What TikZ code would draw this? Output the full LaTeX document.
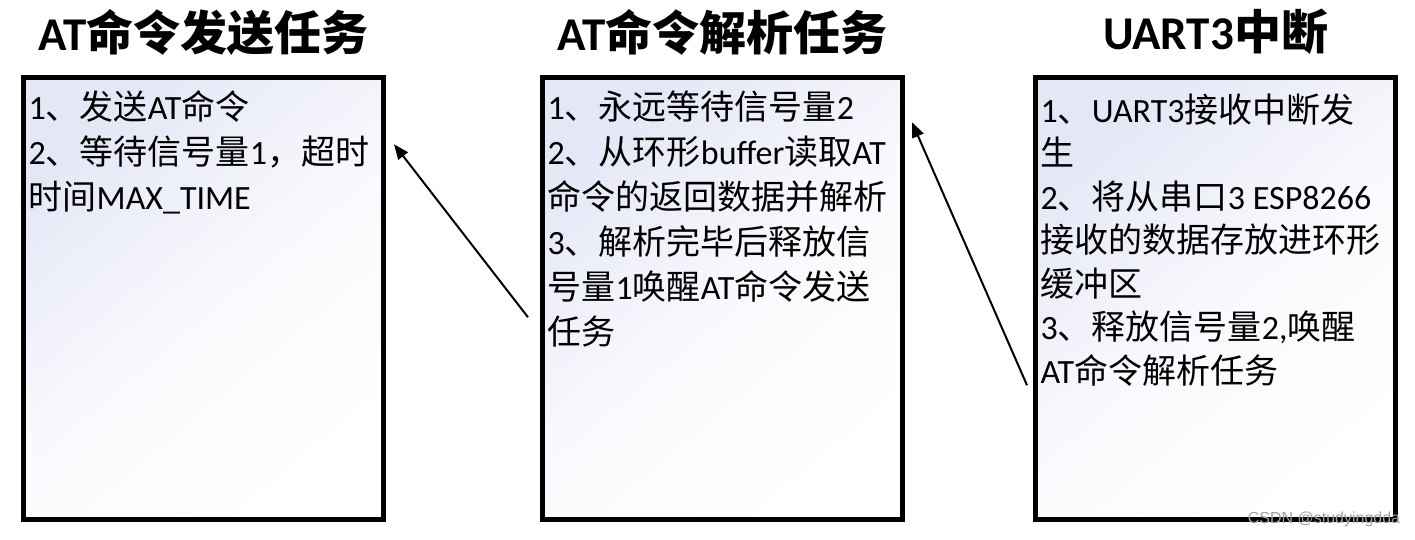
\documentclass[tikz,border=0pt]{standalone}
\usepackage{fontspec}
\setmainfont{Carlito}
\newfontfamily\latinfont{Carlito}
\newfontfamily\cjkfont{Noto Sans CJK SC}
\newfontfamily\wmfont{Liberation Sans}
\usetikzlibrary{positioning,arrows.meta}

% switch to the CJK font for Chinese characters
\newXeTeXintercharclass\cjkclass
\XeTeXinterchartokenstate=1
\newcount\cjkcode
\cjkcode="4E00
\loop
  \XeTeXcharclass\cjkcode=\cjkclass
  \ifnum\cjkcode<"9FFF \advance\cjkcode by 1 \repeat
\XeTeXcharclass"3001=\cjkclass
\XeTeXcharclass"FF0C=\cjkclass
\XeTeXinterchartoks 0 \cjkclass = {\cjkfont}
\XeTeXinterchartoks 4095 \cjkclass = {\cjkfont}
\XeTeXinterchartoks \cjkclass 0 = {\latinfont}
\XeTeXinterchartoks \cjkclass 4095 = {\latinfont}

\definecolor{boxtint}{RGB}{228,231,246}
\newcommand{\firstline}{\rule{0pt}{32pt}}

\begin{document}
\begin{tikzpicture}[x=1pt,y=-1pt,
  taskbox/.style={draw,line width=5pt,minimum width=360pt,minimum height=441.5pt,
    inner sep=0pt,outer sep=0pt,top color=boxtint,bottom color=white,
    middle color=boxtint!25!white,shading angle=40},
  tasktitle/.style={inner sep=0pt,font=\bfseries\fontsize{47}{56}\selectfont},
  tasknote/.style={anchor=north west,inner sep=0pt,align=left,
    font=\fontsize{34}{45}\selectfont},
  link/.style={line width=2pt,-{Triangle[length=15pt,width=12pt]}},
  watermark/.style={inner sep=0pt,text=gray!75,font=\wmfont\fontsize{16}{18}\selectfont}]
\useasboundingbox (0,0) rectangle (1415,539);

% Task boxes
\node[taskbox] (send) at (203.5,298.25) {};
\node[taskbox,right=159pt of send] (parse) {};
\node[taskbox,right=133pt of parse] (uart) {};

% Titles
\node[tasktitle] (sendtitle) at ([yshift=45.5pt]send.north) {AT命令发送任务};
\node[tasktitle] (parsetitle) at ([yshift=45.5pt]parse.north) {AT命令解析任务};
\node[tasktitle] (uarttitle) at ([yshift=45.5pt]uart.north) {UART3中断};

% Box contents
\node[tasknote] (sendnote) at ([xshift=5pt,yshift=-9.5pt]send.north west)
  {\firstline 1、发送AT命令\\2、等待信号量1，超时\\时间MAX\_TIME};
\node[tasknote] (parsenote) at ([xshift=5pt,yshift=-9.5pt]parse.north west)
  {\firstline 1、永远等待信号量2\\2、从环形buffer读取AT\\命令的返回数据并解析\\3、解析完毕后释放信\\号量1唤醒AT命令发送\\任务};
\node[tasknote,font=\fontsize{34}{43.5}\selectfont] (uartnote) at ([xshift=5pt,yshift=-12.5pt]uart.north west)
  {\firstline 1、UART3接收中断发\\生\\2、将从串口3 ESP8266\\接收的数据存放进环形\\缓冲区\\3、释放信号量2,唤醒\\AT命令解析任务};

% Semaphore arrows
\coordinate (parseout) at ([xshift=-14.5pt,yshift=-19pt]parse.west);
\coordinate (sendin) at ([xshift=10.5pt,yshift=154pt]send.east);
\coordinate (uartout) at ([xshift=-8.5pt,yshift=-87pt]uart.west);
\coordinate (parsein) at ([xshift=9.5pt,yshift=176pt]parse.east);
\draw[link] (parseout) -- (sendin);
\draw[link] (uartout) -- (parsein);

\node[watermark] (credit) at (1324,519) {CSDN @studyingdda};
\end{tikzpicture}
\end{document}
